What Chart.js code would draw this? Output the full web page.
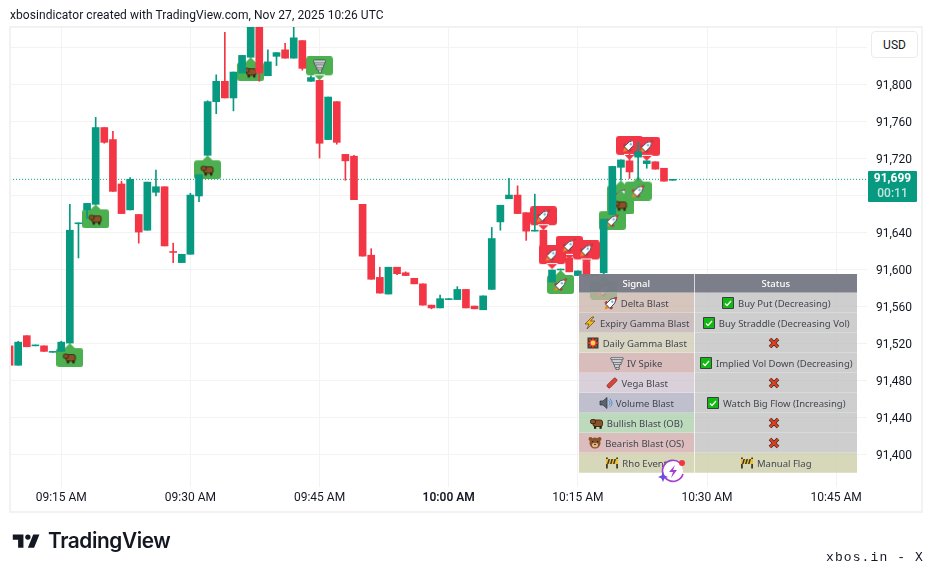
<!DOCTYPE html>
<html>
<head>
<meta charset="utf-8">
<title>xbosindicator</title>
<script src="https://cdn.jsdelivr.net/npm/chart.js@4"></script>
<style>
    html, body { margin: 0; padding: 0; background: #fff; width: 931px; height: 571px; overflow: hidden; }
    body { font-family: Roboto, sans-serif; color: #131722; position: relative; }
    #frame { position: absolute; left: 9px; top: 26px; width: 910px; height: 483px; border: 2px solid #f2f2f2; }
    #chart { position: absolute; left: 0; top: 0; }
    #title { position: absolute; left: 10px; top: 7px; font-size: 12px; line-height: 17px; letter-spacing: 0.06px; color: #131722; }
    #usd { position: absolute; left: 871px; top: 31px; width: 45px; height: 25px; border: 1px solid #ebebeb; border-radius: 4px; font-size: 12px; line-height: 26px; text-align: center; background: #fff; }
    #last { position: absolute; left: 868px; top: 171px; width: 49px; height: 31px; background: #089981; border-radius: 1px; text-align: center; font-size: 12px; line-height: 15px; color: #fff; font-weight: 700; }
    #last span { display: block; font-weight: 500; color: #bfe5dd; }
    #signals { position: absolute; left: 579px; top: 274px; width: 278px; border-collapse: collapse; table-layout: fixed; font-family: "Noto Sans", sans-serif; font-size: 9.5px; color: #434651; }
    #signals th { height: 18px; padding: 0; background: rgba(120,123,134,.97); color: #fff; font-weight: 500; border-bottom: 1px solid rgba(255,255,255,.35); }
    #signals td { height: 19px; padding: 0; text-align: center; white-space: nowrap; border-bottom: 1px solid rgba(255,255,255,.25); }
    #signals th:first-child, #signals td:first-child { border-right: 1px solid rgba(255,255,255,.7); }
    #signals img { vertical-align: -3px; margin-right: 3px; }
    #logo { position: absolute; left: 11px; top: 529px; }
    #brand { position: absolute; left: 48px; top: 527px; font-family: Inter, sans-serif; font-weight: 600; font-size: 20.8px; line-height: 28px; letter-spacing: -0.4px; color: #131722; }
    #handle { position: absolute; left: 826px; top: 550px; font-family: "Liberation Mono", monospace; font-size: 13px; line-height: 15px; letter-spacing: 1.1px; color: #131722; }
    #spark { position: absolute; left: 658px; top: 457px; }
</style>
</head>
<body>
<div id="frame"></div>
<canvas id="chart" width="931" height="571"></canvas>
<div id="title">xbosindicator created with TradingView.com, Nov 27, 2025 10:26 UTC</div>
<div id="usd">USD</div>
<div id="last">91,699<span>00:11</span></div>
<table id="signals"></table>
<svg id="spark" width="30" height="30" viewBox="0 0 30 30">
    <circle cx="15" cy="14" r="10" fill="#fff"/>
    <path d="M22 6A10.5 10.5 0 1 0 25 17" fill="none" stroke="#a43fd0" stroke-width="1.6"/>
    <path d="M17 8l-6 7h4l-2 6 6-8h-4z" fill="#a43fd0"/>
    <path d="M5 15l1.5 3.5L10 20l-3.5 1.5L5 25l-1.5-3.5L0 20l3.5-1.5z" fill="#6d4fe0"/>
    <circle cx="24" cy="6" r="3" fill="#f23645"/>
</svg>
<svg id="logo" width="32" height="25" viewBox="0 0 36 28"><path d="M14 6H2v6h6v9h6V6Zm12 15h-7l6-15h7l-6 15Zm-7-9a3 3 0 1 0 0-6 3 3 0 0 0 0 6Z" fill="#131722"/></svg>
<div id="brand">TradingView</div>
<div id="handle">xbos.in - X</div>

<script>
// minutes after 09:00 for every candle
const minutes = [9,10,11,12,13,14,15,16,17,18,19,20,21,22,23,24,25,26,27,28,29,30,31,32,33,34,35,36,37,38,39,40,41,42,43,44,45,46,47,48,49,50,51,52,53,54,55,56,57,58,59,60,61,62,63,64,65,66,67,68,69,70,71,72,73,74,75,76,77,78,79,80,81,82,83,84,85,86];
const opens = [91518,91497,91529,91518,91518,91511,91512,91521,91650,91665,91671,91754,91741,91693,91665,91660,91643,91684,91690,91620,91608,91617,91680,91724,91782,91804,91786,91813,91830,91870,91810,91831,91838,91829,91848,91804,91805,91741,91782,91725,91723,91671,91616,91592,91574,91603,91597,91591,91585,91562,91559,91568,91568,91579,91561,91557,91579,91652,91677,91681,91662,91642,91643,91587,91600,91613,91594,91609,91594,91597,91660,91711,91718,91722,91715,91717,91710,91697];
const highs = [91518,91523,91529,91519,91518,91512,91523,91671,91651,91672,91765,91754,91750,91696,91700,91660,91695,91708,91690,91629,91617,91683,91703,91783,91811,91857,91814,91832,91870,91870,91838,91835,91845,91868,91848,91810,91805,91787,91782,91725,91724,91671,91623,91603,91603,91603,91598,91591,91585,91562,91573,91569,91582,91579,91561,91572,91646,91670,91699,91691,91662,91682,91643,91600,91601,91613,91599,91609,91595,91655,91712,91719,91725,91738,91718,91717,91710,91698];
const lows = [91497,91497,91517,91518,91512,91511,91512,91521,91613,91656,91671,91737,91685,91661,91665,91629,91643,91680,91626,91608,91608,91617,91674,91724,91769,91786,91772,91813,91830,91804,91810,91821,91829,91829,91816,91804,91721,91741,91736,91697,91676,91615,91590,91575,91574,91595,91594,91585,91562,91558,91559,91568,91568,91559,91558,91557,91579,91643,91677,91661,91632,91642,91615,91587,91600,91598,91594,91594,91594,91596,91660,91697,91699,91697,91710,91709,91696,91697];
const closes = [91497,91522,91517,91519,91512,91512,91522,91643,91651,91672,91754,91738,91685,91661,91698,91641,91695,91690,91626,91619,91617,91681,91703,91782,91804,91786,91814,91832,91870,91813,91825,91835,91829,91851,91818,91808,91737,91787,91738,91718,91676,91615,91590,91575,91603,91596,91594,91585,91562,91559,91569,91569,91579,91559,91558,91572,91634,91670,91681,91661,91642,91643,91615,91600,91601,91598,91599,91594,91595,91655,91712,91719,91706,91728,91718,91709,91696,91698];

// signal labels: minute, price at the tip, icon, colour, which way the tip points
const labelMinutes = [16,19,32,37,45,73,78,79,80,80,82,71,72,74,76,81,83];
const labelPrices = [91521,91671,91724,91830,91805,91600,91594,91669,91697,91686,91701,91643,91601,91611,91606,91719,91718];
const labelIcons = ['bear','bear','bear','bear','tornado','rocket','rocket','rocket','rocket','bear','rocket','rocket','rocket','rocket','rocket','rocket','rocket'];
const labelKinds = ['up','up','up','up','downGreen','up','up','up','up','up','up','down','down','down','down','down','down'];

const lastPrice = 91698;

const xTickValues = [15,30,45,60,75,90,105];
const xTickLabels = ['09:15 AM','09:30 AM','09:45 AM','10:00 AM','10:15 AM','10:30 AM','10:45 AM'];
const yTickValues = [91400,91440,91480,91520,91560,91600,91640,91680,91720,91760,91800,91840];
const yTickLabels = ['91,400','91,440','91,480','91,520','91,560','91,600','91,640','','91,720','91,760','91,800',''];

const signalNames = ['Delta Blast','Expiry Gamma Blast','Daily Gamma Blast','IV Spike','Vega Blast','Volume Blast','Bullish Blast (OB)','Bearish Blast (OS)','Rho Event'];
const signalIcons = ['rocket','bolt','boom','tornado','pencil','speaker','bear','bearFace','barrier'];
const signalColors = ['rgba(200,178,167,.75)','rgba(188,171,171,.75)','rgba(204,202,175,.75)','rgba(204,167,167,.75)','rgba(204,192,204,.75)','rgba(170,170,189,.75)','rgba(167,206,167,.75)','rgba(208,167,167,.75)','rgba(202,202,163,.75)'];
const statusTexts = ['Buy Put (Decreasing)','Buy Straddle (Decreasing Vol)','','Implied Vol Down (Decreasing)','','Watch Big Flow (Increasing)','','','Manual Flag'];
const statusIcons = ['check','check','cross','check','cross','check','cross','cross','barrier'];

const UP = '#089981';
const DOWN = '#f23645';
const GRID = '#f3f3f3';

function drawIcon(c, kind, x, y) {
    c.save();
    c.translate(x, y);
    c.lineJoin = 'round';
    if (kind === 'rocket') {
        c.rotate(Math.PI / 4);
        c.scale(1.15, 1.15);
        c.fillStyle = '#f08a1c';
        c.beginPath(); c.moveTo(-2, 4); c.lineTo(0, 8); c.lineTo(2, 4); c.fill();
        c.fillStyle = '#c8323a';
        c.fillRect(-4.2, 1.5, 8.4, 2.5);
        c.fillStyle = '#ffffff';
        c.strokeStyle = '#39424e';
        c.lineWidth = 0.8;
        c.beginPath(); c.moveTo(0, -7); c.quadraticCurveTo(3.4, -3, 2.6, 4); c.lineTo(-2.6, 4); c.quadraticCurveTo(-3.4, -3, 0, -7); c.fill(); c.stroke();
        c.fillStyle = '#d93a3a';
        c.beginPath(); c.moveTo(0, -7); c.lineTo(1.8, -4.5); c.lineTo(-1.8, -4.5); c.fill();
        c.fillStyle = '#6aaee0';
        c.fillRect(-0.9, -2.5, 1.8, 1.8);
    } else if (kind === 'bear') {
        c.fillStyle = '#8a5228';
        c.strokeStyle = '#2f1c0d';
        c.lineWidth = 0.8;
        c.beginPath(); c.roundRect(-4, -3, 9.5, 6.5, 2); c.fill(); c.stroke();
        c.beginPath(); c.roundRect(-6.5, -3.5, 5, 4.2, 1.5); c.fill(); c.stroke();
        c.fillStyle = '#2f1c0d';
        c.fillRect(-3, 3, 2.2, 2.8);
        c.fillRect(2.5, 3, 2.2, 2.8);
    } else if (kind === 'bearFace') {
        c.fillStyle = '#8a5228';
        c.beginPath(); c.arc(-4.5, -4, 2, 0, 7); c.arc(4.5, -4, 2, 0, 7); c.fill();
        c.beginPath(); c.arc(0, 0, 5.5, 0, 7); c.fill();
        c.fillStyle = '#e2b88a';
        c.beginPath(); c.ellipse(0, 2, 3, 2.3, 0, 0, 7); c.fill();
        c.fillStyle = '#2f1c0d';
        c.fillRect(-3, -2, 1.2, 1.2); c.fillRect(2, -2, 1.2, 1.2); c.fillRect(-0.8, 0.8, 1.6, 1.2);
    } else if (kind === 'tornado') {
        c.lineCap = 'round';
        const rows = [[-5, 5, -4.5], [-4, 4, -2], [-2.5, 3, 0.5], [-1.5, 1.5, 3], [0, 1, 5.5]];
        c.strokeStyle = '#33373d';
        c.lineWidth = 3;
        rows.forEach(r => { c.beginPath(); c.moveTo(r[0], r[2]); c.lineTo(r[1], r[2]); c.stroke(); });
        c.strokeStyle = '#c9ccd1';
        c.lineWidth = 1.8;
        rows.forEach(r => { c.beginPath(); c.moveTo(r[0], r[2]); c.lineTo(r[1], r[2]); c.stroke(); });
    } else if (kind === 'bolt') {
        c.fillStyle = '#f5b820';
        c.strokeStyle = '#5a4210';
        c.lineWidth = 0.7;
        c.beginPath(); c.moveTo(2, -6); c.lineTo(-5, 1); c.lineTo(-1, 1); c.lineTo(-3, 6); c.lineTo(5, -2); c.lineTo(0.5, -2); c.lineTo(4, -6); c.closePath(); c.fill(); c.stroke();
    } else if (kind === 'boom') {
        c.fillStyle = '#3d3d3d';
        c.fillRect(-5.5, -5.5, 11, 11);
        c.fillStyle = '#e8392e';
        c.beginPath();
        for (let i = 0; i < 16; i++) {
            const r = i % 2 ? 3.2 : 6.2, a = i * Math.PI / 8;
            c.lineTo(r * Math.cos(a), r * Math.sin(a));
        }
        c.fill();
        c.fillStyle = '#f9d648';
        c.beginPath(); c.arc(0, 0, 2.4, 0, 7); c.fill();
    } else if (kind === 'pencil') {
        c.rotate(-Math.PI / 4);
        c.fillStyle = '#d9443c';
        c.strokeStyle = '#7a1f1a';
        c.lineWidth = 0.6;
        c.beginPath(); c.roundRect(-6, -2, 12, 4, 1.6); c.fill(); c.stroke();
    } else if (kind === 'speaker') {
        c.fillStyle = '#5d6570';
        c.strokeStyle = '#2d3238';
        c.lineWidth = 0.7;
        c.beginPath(); c.moveTo(-6, -2); c.lineTo(-3, -2); c.lineTo(1, -5.5); c.lineTo(1, 5.5); c.lineTo(-3, 2); c.lineTo(-6, 2); c.closePath(); c.fill(); c.stroke();
        c.strokeStyle = '#4a90d0';
        c.lineWidth = 1;
        c.beginPath(); c.arc(1, 0, 3, -1, 1); c.stroke();
        c.beginPath(); c.arc(1, 0, 5, -1, 1); c.stroke();
    } else if (kind === 'barrier') {
        c.fillStyle = '#4a3a22';
        c.fillRect(-6, -5.5, 1.8, 11);
        c.fillRect(4.2, -5.5, 1.8, 11);
        c.fillStyle = '#f0c030';
        c.fillRect(-6, -4, 12, 5);
        c.fillStyle = '#333';
        for (let i = -5; i < 4; i += 3) { c.beginPath(); c.moveTo(i, 1); c.lineTo(i + 1.5, 1); c.lineTo(i + 3, -4); c.lineTo(i + 1.5, -4); c.fill(); }
    } else if (kind === 'check') {
        c.fillStyle = '#13b913';
        c.strokeStyle = '#3a3f45';
        c.lineWidth = 1;
        c.fillRect(-5.5, -5.5, 11, 11);
        c.strokeRect(-5.5, -5.5, 11, 11);
        c.strokeStyle = '#fff';
        c.lineWidth = 1.3;
        c.beginPath(); c.moveTo(-3, 0.5); c.lineTo(-1, 2.5); c.lineTo(3, -2); c.stroke();
    } else if (kind === 'cross') {
        c.strokeStyle = '#3a2a28';
        c.lineWidth = 3.6;
        c.beginPath(); c.moveTo(-4, -4); c.lineTo(4, 4); c.moveTo(4, -4); c.lineTo(-4, 4); c.stroke();
        c.strokeStyle = '#e0401f';
        c.lineWidth = 2.2;
        c.beginPath(); c.moveTo(-4, -4); c.lineTo(4, 4); c.moveTo(4, -4); c.lineTo(-4, 4); c.stroke();
    }
    c.restore();
}

// label image, drawn twice as high as the shape so that its tip lands on the point
function makeLabel(kind, icon) {
    const w = 27, h = 48, mid = 24;
    const cv = document.createElement('canvas');
    cv.width = w; cv.height = h;
    const c = cv.getContext('2d');
    const isUp = kind === 'up';
    c.fillStyle = kind === 'down' ? DOWN : '#4caf50';
    c.beginPath();
    if (isUp) {
        c.roundRect(0, mid + 5, w, 19, 3);
        c.moveTo(w / 2 - 6, mid + 6); c.lineTo(w / 2, mid); c.lineTo(w / 2 + 6, mid + 6);
    } else {
        c.roundRect(0, 0, w, 19, 3);
        c.moveTo(w / 2 - 6, 18); c.lineTo(w / 2, mid); c.lineTo(w / 2 + 6, 18);
    }
    c.fill();
    drawIcon(c, icon, w / 2, isUp ? mid + 14.5 : 9.5);
    return cv;
}

function iconTag(kind) {
    const cv = document.createElement('canvas');
    cv.width = 14; cv.height = 14;
    drawIcon(cv.getContext('2d'), kind, 7, 7);
    return `<img src="${cv.toDataURL()}" width="14" height="14" alt="">`;
}

function renderTable() {
    let html = '<colgroup><col style="width:115px"><col style="width:163px"></colgroup><tr><th>Signal</th><th>Status</th></tr>';
    signalNames.forEach((name, i) => {
        const last = i === signalNames.length - 1;
        const status = statusTexts[i] ? `${iconTag(statusIcons[i])}${statusTexts[i]}` : iconTag(statusIcons[i]);
        html += `<tr>
            <td style="background:${signalColors[i]}">${iconTag(signalIcons[i])}${name}</td>
            <td style="background:${last ? signalColors[i] : 'rgba(190,190,190,.75)'}">${status}</td>
        </tr>`;
    });
    document.getElementById('signals').innerHTML = html;
}

function renderChart() {
    const candleColor = ctx => closes[ctx.dataIndex] >= opens[ctx.dataIndex] ? UP : DOWN;
    const labelImages = labelKinds.map((k, i) => makeLabel(k, labelIcons[i]));

    new Chart(document.getElementById('chart'), {
        type: 'bar',
        data: {
            datasets: [
                {
                    data: minutes.map((m, i) => ({ x: m, y: [opens[i], closes[i]] })),
                    backgroundColor: candleColor,
                    barThickness: 7,
                    grouped: false,
                    order: 1
                },
                {
                    data: minutes.map((m, i) => ({ x: m, y: [lows[i], highs[i]] })),
                    backgroundColor: candleColor,
                    barThickness: 1,
                    grouped: false,
                    order: 2
                },
                {
                    type: 'line',
                    data: labelMinutes.map((m, i) => ({ x: m, y: labelPrices[i] })),
                    showLine: false,
                    pointStyle: ctx => labelImages[ctx.dataIndex],
                    pointRadius: 10,
                    order: 3
                },
                {
                    type: 'line',
                    data: [{ x: 0, y: lastPrice }, { x: 120, y: lastPrice }],
                    borderColor: UP,
                    borderWidth: 1,
                    borderDash: [1, 2],
                    pointRadius: 0,
                    order: 4
                }
            ]
        },
        options: {
            responsive: false,
            animation: false,
            events: [],
            layout: { padding: { left: 10, top: 27, right: 10, bottom: 61 } },
            plugins: { legend: { display: false }, tooltip: { enabled: false } },
            scales: {
                x: {
                    type: 'linear',
                    bounds: 'data',
                    offset: false,
                    min: 9.165,
                    max: 108.58,
                    afterBuildTicks: axis => { axis.ticks = xTickValues.map(v => ({ value: v })); },
                    afterFit: axis => { axis.height = 23; },
                    grid: { color: GRID, offset: false, drawTicks: false },
                    border: { display: false },
                    ticks: {
                        autoSkip: false,
                        maxRotation: 0,
                        padding: 4,
                        color: '#131722',
                        font: ctx => ({ family: 'Roboto', size: 12, weight: xTickValues[ctx.index] === 60 ? '600' : '400' }),
                        callback: (v, i) => xTickLabels[i]
                    }
                },
                y: {
                    position: 'right',
                    bounds: 'data',
                    min: 91365.4,
                    max: 91862.7,
                    afterBuildTicks: axis => { axis.ticks = yTickValues.map(v => ({ value: v })); },
                    afterFit: axis => { axis.width = 54; },
                    grid: { color: GRID, drawTicks: false },
                    border: { display: false },
                    ticks: {
                        autoSkip: false,
                        padding: 9,
                        labelOffset: 1,
                        color: '#131722',
                        font: { family: 'Roboto', size: 12 },
                        callback: (v, i) => yTickLabels[i]
                    }
                }
            }
        }
    });
}

renderTable();
renderChart();
</script>
</body>
</html>
